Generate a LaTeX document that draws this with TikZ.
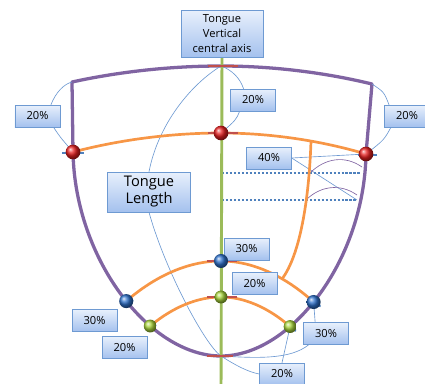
\documentclass[tikz,border=0pt]{standalone}
\usepackage{fontspec}
\setmainfont{Open Sans}
\usetikzlibrary{shadows,backgrounds}
\definecolor{tvpurple}{HTML}{8064A2}
\definecolor{tvorange}{HTML}{F79646}
\definecolor{tvgreen}{HTML}{9BBB59}
\definecolor{tvblue}{HTML}{4F81BD}
\definecolor{tvline}{HTML}{6E9AD2}
\definecolor{tvred}{HTML}{C0504D}
\definecolor{boxtop}{HTML}{E8F0FC}
\definecolor{boxbot}{HTML}{A4C1EE}
\definecolor{ballred}{HTML}{E82020}
\definecolor{ballblue}{HTML}{2F72CC}
\definecolor{ballgreen}{HTML}{A8D43A}
\tikzset{
  lbl/.style={draw=tvline, top color=boxtop, bottom color=boxbot, inner sep=1pt,
    align=center, font=\fontsize{9.5}{12}\selectfont,
    drop shadow={opacity=0.2, shadow xshift=0.8pt, shadow yshift=-0.8pt}},
  pct/.style={lbl, minimum width=1.35cm, minimum height=0.66cm},
  conn/.style={tvline, line width=0.55pt},
  rim/.style={tvpurple, line width=2.8pt, line join=round},
  arc/.style={tvorange, line width=2.3pt},
  dots/.style={tvblue, line width=2pt, dash pattern=on 1.8pt off 1.6pt},
  redtick/.style={tvred, line width=2.5pt},
  bluetick/.style={tvblue, line width=1.8pt},
  redball/.style={circle, inner sep=0pt, minimum size=12.5pt, ball color=ballred},
  blueball/.style={circle, inner sep=0pt, minimum size=12pt, ball color=ballblue},
  greenball/.style={circle, inner sep=0pt, minimum size=11pt, ball color=ballgreen}
}
\begin{document}
\begin{tikzpicture}[x=0.03cm,y=-0.03cm]
\useasboundingbox (0,0) rectangle (425,383);
\coordinate (topL) at (72,82);
\coordinate (topC) at (221,66);
\coordinate (topR) at (372,84);
\coordinate (redL) at (73,152);
\coordinate (redC) at (221,133);
\coordinate (redR) at (366,154);
\coordinate (bluC) at (221,261);
\coordinate (grnC) at (221,297);
\coordinate (tip) at (221,356);
\coordinate (ovTop) at (311,141);
\coordinate (ovBot) at (282,279);
\coordinate (d1a) at (222,173);
\coordinate (d1b) at (360,173);
\coordinate (d2a) at (222,200);
\coordinate (d2b) at (357,200);

\node[lbl, minimum width=2.46cm, minimum height=1.41cm, font=\fontsize{9.5}{12.5}\selectfont] (tva) at (222,33.5) {Tongue\\Vertical\\central axis};
\node[lbl, minimum width=2.49cm, minimum height=1.2cm, font=\fontsize{12.5}{14.5}\selectfont] (len) at (149,192) {Tongue\\Length};
\node[pct] (p20l) at (37.5,116) {20\%};
\node[pct] (p20r) at (407,116) {20\%};
\node[pct] (p20c) at (253,100) {20\%};
\node[pct] (p40) at (269,158) {40\%};
\node[pct] (p30c) at (246.5,249) {30\%};
\node[pct] (p20m) at (254.5,283.5) {20\%};
\node[pct] (p30l) at (94.5,320.5) {30\%};
\node[pct] (p20ll) at (124.5,347.5) {20\%};
\node[pct] (p30r) at (326,333.5) {30\%};
\node[pct] (p20b) at (282,374) {20\%};

\begin{scope}[on background layer]
% outline of the tongue
\draw[rim] (redL) .. controls (75,260) and (150,356) .. (tip)
    coordinate[pos=0.53] (bluL) coordinate[pos=0.66] (grnL)
  .. controls (290,356) and (364,262) .. (redR)
    coordinate[pos=0.34] (grnR) coordinate[pos=0.47] (bluR)
  -- (topR) parabola bend (topC) (topL) -- cycle;

\draw[conn] (len.north) .. controls (158,125) and (190,85) .. (topC);
\draw[conn] (len.south) .. controls (165,270) and (205,345) .. (tip)
  .. controls (235,365) and (248,372) .. (p20b.west);
\draw[conn] (p20c.130) .. controls (240,78) and (232,70) .. (topC);
\draw[conn] (p20c.220) .. controls (236,120) .. (redC);
\draw[conn] (p20l.40) .. controls (56,92) and (64,84) .. (topL);
\draw[conn] (p20l.-35) .. controls (60,137) .. (redL);
\draw[conn] (p20r.148) .. controls (384,92) .. (topR);
\draw[conn] (p20r.215) .. controls (384,140) .. (redR);
\draw[conn] (p40.east) -- (redR);
\draw[conn] (p40.east) -- (d2b);
\draw[conn] (p30r.134) -- (bluR);
\draw[conn] (p30r.213) .. controls (290,360) and (255,358) .. (tip);
\draw[conn] (p20b.north) -- (grnR);
\draw[tvpurple, line width=0.55pt] (310,173) .. controls (325,158) and (345,155) .. (362,167);
\draw[tvpurple, line width=0.55pt] (306,200) .. controls (320,186) and (340,183) .. (357,195);

\draw[dots] (d1a) -- (d1b);
\draw[dots] (d2a) -- (d2b);

\draw[arc] (redL) parabola bend (redC) (redR);
\draw[arc] (bluL) parabola bend (bluC) (bluR);
\draw[arc] (grnL) parabola bend (grnC) (grnR);
\draw[arc] (ovTop) .. controls (309,200) and (300,255) .. (ovBot);

\draw[tvgreen, line width=2.5pt] (tva.south) -- (221,390);

\draw[redtick] (topC) ++(-13,0) -- ++(30,0);
\draw[redtick] (redC) ++(-13,0) -- ++(30,0);
\draw[redtick] (bluC) ++(-14,0) -- ++(30,0);
\draw[redtick] (grnC) ++(-14,0) -- ++(30,0);
\draw[redtick] (tip) ++(-14,0) -- ++(26,0);
\draw[bluetick] (redL) ++(-11,1) -- ++(22,0);
\draw[bluetick] (redR) ++(-8,1) -- ++(19,0);
\draw[bluetick] (bluL) ++(-3,2) -- ++(10,-3);
\draw[bluetick] (bluR) ++(-6,2) -- ++(13,2);
\draw[bluetick] (grnL) ++(-3,2) -- ++(9,-3);
\draw[bluetick] (grnR) ++(-6,2) -- ++(12,2);
\end{scope}

\node[redball] (rbL) at (redL) {};
\node[redball] (rbC) at (redC) {};
\node[redball] (rbR) at (redR) {};
\node[blueball] (bbL) at (bluL) {};
\node[blueball] (bbC) at (bluC) {};
\node[blueball] (bbR) at (bluR) {};
\node[greenball] (gbL) at (grnL) {};
\node[greenball] (gbC) at (grnC) {};
\node[greenball] (gbR) at (grnR) {};
\end{tikzpicture}
\end{document}
